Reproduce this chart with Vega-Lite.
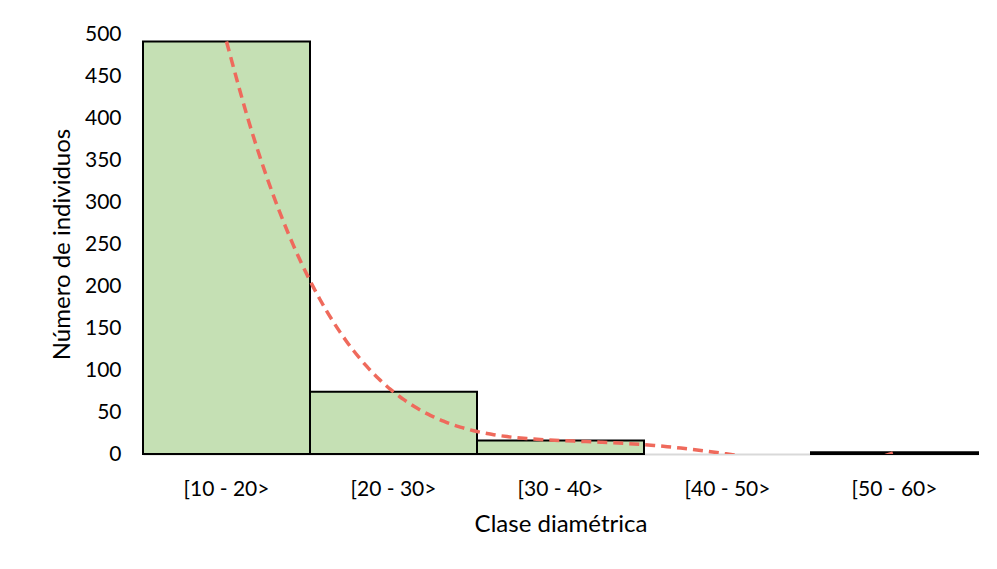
{
  "$schema": "https://vega.github.io/schema/vega-lite/v6.json",
  "width": 835,
  "height": 420,
  "autosize": {"type": "none"},
  "padding": {"left": 143, "top": 34, "right": 19, "bottom": 115},
  "background": "white",
  "config": {
    "view": {"stroke": null},
    "font": "Lato",
    "axis": {"labelFont": "Lato", "titleFont": "Lato", "labelColor": "#000000", "titleColor": "#000000", "grid": false, "ticks": false}
  },
  "data": {
    "values": [
      {"clase": "[10 - 20>", "idx": 1, "n": 491},
      {"clase": "[20 - 30>", "idx": 2, "n": 74},
      {"clase": "[30 - 40>", "idx": 3, "n": 16},
      {"clase": "[40 - 50>", "idx": 4, "n": 0},
      {"clase": "[50 - 60>", "idx": 5, "n": 2}
    ]
  },
  "layer": [
    {
      "mark": {"type": "bar", "fill": "#C5E0B4", "stroke": "#000000", "strokeWidth": 2},
      "encoding": {
        "x": {
          "field": "clase", "type": "ordinal", "sort": null,
          "scale": {"paddingInner": 0, "paddingOuter": 0},
          "axis": {
            "title": "Clase diamétrica", "labelAngle": 0, "labelFontSize": 21, "titleFontSize": 24,
            "titleFontWeight": "normal", "labelPadding": 24, "titlePadding": 13,
            "domainColor": "#D9D9D9", "domainWidth": 2
          }
        },
        "y": {
          "field": "n", "type": "quantitative",
          "scale": {"domain": [0, 500], "nice": false},
          "axis": {
            "title": "Número de individuos", "values": [0, 50, 100, 150, 200, 250, 300, 350, 400, 450, 500],
            "labelFontSize": 21, "titleFontSize": 24, "titleFontWeight": "normal",
            "domain": false, "labelPadding": 22, "titlePadding": 10
          }
        },
        "strokeOpacity": {"condition": {"test": "datum.n > 0", "value": 1}, "value": 0}
      }
    },
    {
      "transform": [
        {"regression": "n", "on": "idx", "method": "poly", "order": 4}
      ],
      "mark": {"type": "line", "color": "#EF6A5C", "strokeWidth": 3.5, "strokeDash": [10, 6], "clip": true, "interpolate": "monotone"},
      "encoding": {
        "x": {"field": "idx", "type": "quantitative", "scale": {"domain": [0.5, 5.5], "nice": false, "zero": false}, "axis": null},
        "y": {"field": "n", "type": "quantitative", "scale": {"domain": [0, 500], "nice": false}}
      }
    }
  ],
  "resolve": {"scale": {"x": "independent"}}
}
